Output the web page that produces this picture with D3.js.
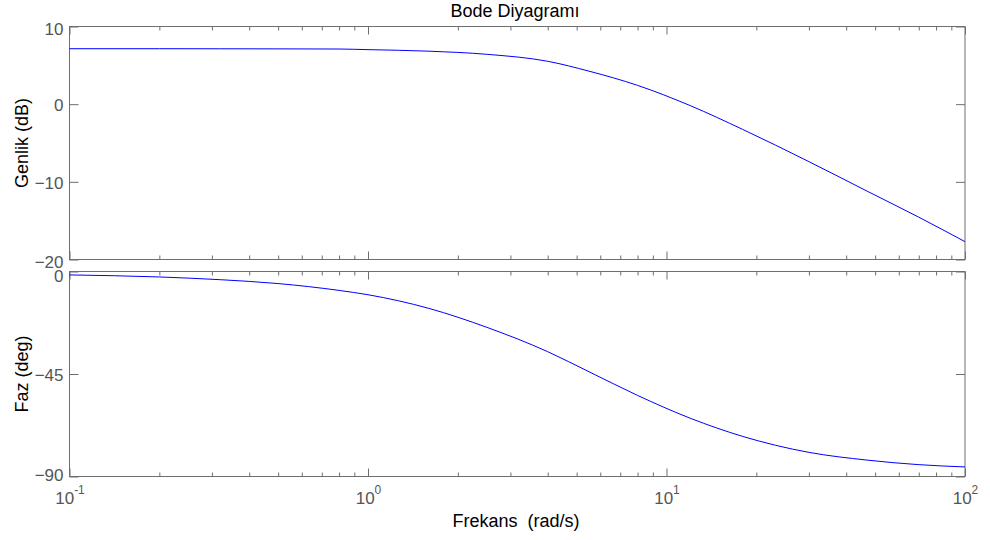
<!DOCTYPE html>
<html>
<head>
<meta charset="utf-8">
<script src="https://cdn.jsdelivr.net/npm/d3@7"></script>
<style>
  html, body { margin: 0; padding: 0; background: #fff; }
  svg { display: block; font-family: "Liberation Sans", Arial, sans-serif; }
  .tick text { fill: #555; font-size: 17px; }
  .tick line { stroke: #6e6e6e; }
</style>
</head>
<body>
<svg id="chart" width="990" height="540"></svg>
<script>
// Frequency response samples (rad/s) with gain and phase
const freqs    = [0.1, 0.2, 0.32, 0.5, 0.8, 1, 1.6, 2.5, 4, 5.5, 8, 12, 18, 30, 47, 70, 100];
const magDb    = [7.14, 7.14, 7.13, 7.12, 7.10, 7.02, 6.82, 6.42, 5.52, 4.25, 2.42, -0.18, -3.25, -7.4, -11.2, -14.55, -17.7];
const phaseDeg = [-1.5, -2.4, -3.6, -5.3, -8.3, -10.2, -16.2, -24.5, -35.2, -44.0, -54.4, -64.4, -72.4, -79.4, -82.8, -84.8, -85.8];

const magTicks = [10, 0, -10, -20];
const phaseTicks = [0, -45, -90];
const decadeTicks = [0.1, 1, 10, 100];
const decadeExp = ["-1", "0", "1", "2"];

const svg = d3.select("#chart");
const L = 69.5, R = 965;
const magTop = 26.5, magBot = 259.5;
const phTop = 271.5, phBot = 476.5;

const x = d3.scaleLog().domain([0.1, 100]).range([L, R]);
const yMag = d3.scaleLinear().domain([-20, 10]).range([magBot, magTop]);
const yPh = d3.scaleLinear().domain([-90, 0]).range([phBot, phTop]);

// minor log ticks 2..9 in each decade
const minorTicks = [];
[0.1, 1, 10].forEach(d => { for (let k = 2; k <= 9; k++) minorTicks.push(d * k); });

// baseline offsets for left labels (px below tick)
const magLabelDy = { "10": 8, "0": 6.5, "-10": 6.5, "-20": 7.5 };
const phLabelDy = { "0": 10, "-45": 6, "-90": 3.5 };

function panel(y, yTicks, top, bot, showXLabels, labelDy) {
  const g = svg.append("g");
  // left axis with labels, ticks pointing in
  g.append("g").attr("transform", `translate(${L},0)`)
    .call(d3.axisLeft(y).tickValues(yTicks).tickSizeInner(-9).tickSizeOuter(0).tickPadding(6))
    .call(a => a.select(".domain").remove())
    .call(a => a.selectAll(".tick text").attr("dy", d => labelDy[String(d)] + "px"));
  // right axis ticks
  g.append("g").attr("transform", `translate(${R},0)`)
    .call(d3.axisRight(y).tickValues(yTicks).tickSizeInner(-9).tickSizeOuter(0).tickFormat(""))
    .call(a => a.select(".domain").remove());
  // top and bottom decade and minor ticks
  [["top", top], ["bottom", bot]].forEach(([side, yy]) => {
    const mk = side === "top" ? d3.axisTop : d3.axisBottom;
    g.append("g").attr("transform", `translate(0,${yy})`)
      .call(mk(x).tickValues(minorTicks).tickSizeInner(-4).tickSizeOuter(0).tickFormat(""))
      .call(a => a.select(".domain").remove());
    const ax = g.append("g").attr("transform", `translate(0,${yy})`)
      .call(mk(x).tickValues(decadeTicks).tickSizeInner(-8).tickSizeOuter(0).tickFormat(""))
      .call(a => a.select(".domain").remove());
    if (showXLabels && side === "bottom") {
      ax.selectAll(".tick text").each(function (d, i) {
        const t = d3.select(this).attr("dy", null).attr("y", 27.5).attr("text-anchor", "middle");
        t.append("tspan").text("10");
        t.append("tspan").attr("dy", -10).attr("font-size", 12).text(decadeExp[i]);
      });
    }
  });
  // frame
  g.append("rect").attr("x", L).attr("y", top).attr("width", R - L).attr("height", bot - top)
    .attr("fill", "none").attr("stroke", "#6e6e6e").attr("stroke-width", 1);
  return g;
}

panel(yMag, magTicks, magTop, magBot, false, magLabelDy);
panel(yPh, phaseTicks, phTop, phBot, true, phLabelDy);

// response curves
svg.append("path").datum(freqs.map((f, i) => [f, magDb[i]]))
  .attr("fill", "none").attr("stroke", "#0000ff").attr("stroke-width", 1)
  .attr("d", d3.line().curve(d3.curveMonotoneX).x(d => x(d[0])).y(d => yMag(d[1])));
svg.append("path").datum(freqs.map((f, i) => [f, phaseDeg[i]]))
  .attr("fill", "none").attr("stroke", "#0000ff").attr("stroke-width", 1)
  .attr("d", d3.line().curve(d3.curveMonotoneX).x(d => x(d[0])).y(d => yPh(d[1])));

// titles
svg.append("text").attr("x", 515).attr("y", 17).attr("text-anchor", "middle")
  .attr("font-size", 18).attr("fill", "#000").text("Bode Diyagramı");
svg.append("text").attr("x", 516).attr("y", 527).attr("text-anchor", "middle")
  .attr("font-size", 18).attr("fill", "#000").attr("xml:space", "preserve").text("Frekans  (rad/s)");
svg.append("text").attr("transform", `translate(28,${(magTop + magBot) / 2}) rotate(-90)`)
  .attr("text-anchor", "middle").attr("font-size", 18).attr("fill", "#000").text("Genlik (dB)");
svg.append("text").attr("transform", `translate(28,${(phTop + phBot) / 2}) rotate(-90)`)
  .attr("text-anchor", "middle").attr("font-size", 18).attr("fill", "#000").text("Faz (deg)");
</script>
</body>
</html>
